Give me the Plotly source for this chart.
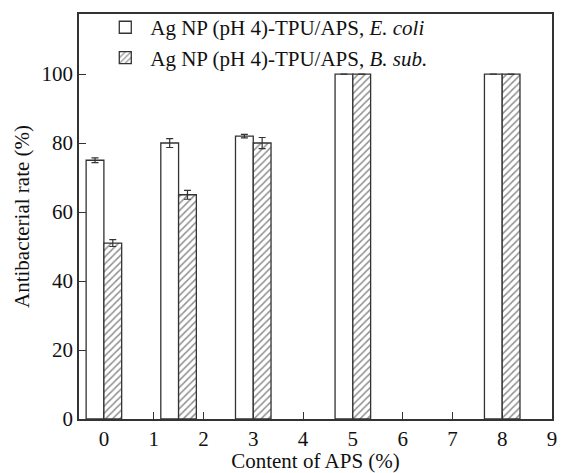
import plotly.graph_objects as go

aps_content = [0, 1.5, 3, 5, 8]
ecoli_rate = [75, 80, 82, 100, 100]
ecoli_err = [0.7, 1.3, 0.5, 0, 0]
bsub_rate = [51, 65, 80, 100, 100]
bsub_err = [1.0, 1.3, 1.6, 0, 0]
x_ticks = [0, 1, 2, 3, 4, 5, 6, 7, 8, 9]
y_ticks = [0, 20, 40, 60, 80, 100]

FONT = "Liberation Serif, Times New Roman, serif"
LINE = "#333333"
FS = 21
bw = 0.357

fig = go.Figure()
fig.add_trace(go.Bar(
    x=aps_content, y=ecoli_rate, name="Ag NP (pH 4)-TPU/APS, <i>E. coli</i>",
    width=bw, offset=-bw,
    marker=dict(color="white", line=dict(color=LINE, width=1.3)),
    error_y=dict(type="data", array=ecoli_err, visible=True, color=LINE, thickness=1.2, width=3.5),
))
fig.add_trace(go.Bar(
    x=aps_content, y=bsub_rate, name="Ag NP (pH 4)-TPU/APS, <i>B. sub.</i>",
    width=bw, offset=0,
    marker=dict(color="white", line=dict(color=LINE, width=1.3),
                pattern=dict(shape="/", size=5, solidity=0.3, fgcolor="#222222", bgcolor="white")),
    error_y=dict(type="data", array=bsub_err, visible=True, color=LINE, thickness=1.2, width=3.5),
))

fig.update_layout(
    width=562, height=473,
    margin=dict(l=79, r=5, t=14, b=51),
    barmode="overlay",
    plot_bgcolor="white", paper_bgcolor="white",
    font=dict(family=FONT, size=FS, color="#111111"),
    showlegend=True,
    legend=dict(x=0.045, y=1.017, xanchor="left", yanchor="top",
                bgcolor="rgba(0,0,0,0)", font=dict(size=FS, family=FONT),
                itemwidth=40, tracegroupgap=0),
)
fig.update_xaxes(
    range=[-0.5, 9], tickvals=x_ticks, ticks="inside", ticklen=7,
    tickcolor=LINE, showline=True, linecolor=LINE, linewidth=1.5, mirror=True,
    showgrid=False, zeroline=False,
    title=dict(text="Content of APS (%)", font=dict(size=FS, family=FONT), standoff=2),
    tickfont=dict(size=FS, family=FONT),
)
fig.update_yaxes(
    range=[0, 117.4], tickvals=y_ticks, ticks="inside", ticklen=7,
    tickcolor=LINE, showline=True, linecolor=LINE, linewidth=1.5, mirror=True,
    showgrid=False, zeroline=False,
    title=dict(text="Antibacterial rate (%)", font=dict(size=FS, family=FONT), standoff=6),
    tickfont=dict(size=FS, family=FONT),
)

fig.write_html("out.html")
